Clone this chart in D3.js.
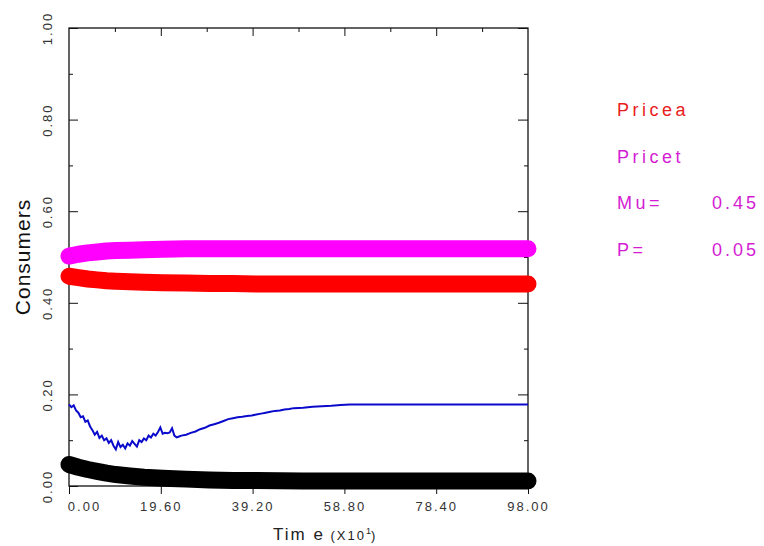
<!DOCTYPE html>
<html>
<head>
<meta charset="utf-8">
<script src="https://cdn.jsdelivr.net/npm/d3@7"></script>
<style>
  body { margin: 0; background: #fff; }
  text { font-family: "Liberation Sans", Arial, sans-serif; }
</style>
</head>
<body>
<svg id="chart" width="764" height="546"></svg>
<script>
// x is time in units of 10, y is share of consumers
const xTicks = [0, 19.6, 39.2, 58.8, 78.4, 98];
const yTicks = [0, 0.2, 0.4, 0.6, 0.8, 1.0];
const yMinor = [0.1, 0.3, 0.5, 0.7, 0.9];
const xMinor = [9.8, 29.4, 49, 68.6, 88.2];

const thickT  = [0, 2, 4, 6, 8, 10, 13, 16, 20, 25, 30, 35, 40, 50, 60, 70, 80, 98];
const pricea  = [0.458, 0.455, 0.452, 0.450, 0.448, 0.447, 0.446, 0.445, 0.444, 0.443, 0.442, 0.442, 0.441, 0.441, 0.441, 0.441, 0.441, 0.441];
const pricet  = [0.502, 0.506, 0.509, 0.511, 0.513, 0.514, 0.515, 0.516, 0.517, 0.518, 0.518, 0.518, 0.518, 0.518, 0.518, 0.518, 0.518, 0.518];
const blackV  = [0.047, 0.041, 0.036, 0.032, 0.028, 0.025, 0.022, 0.019, 0.017, 0.015, 0.013, 0.012, 0.012, 0.011, 0.011, 0.011, 0.011, 0.011];

const blueT = [0, 0.5, 1, 1.5, 2, 2.5, 3, 3.5, 4, 4.5, 5, 5.5, 6, 6.5, 7, 7.5, 8, 8.5, 9, 9.5,
  10, 10.5, 11, 11.5, 12, 12.5, 13, 13.5, 14, 14.5, 15, 15.5, 16, 16.5, 17, 17.5, 18, 18.5, 19, 19.5,
  20, 20.5, 21, 21.5, 22, 22.5, 23, 23.5, 24, 25, 26, 27, 28, 29, 30, 31, 32, 33, 34, 35, 36, 37, 38, 39,
  40, 41, 42, 43, 44, 45, 46, 47, 48, 50, 52, 54, 56, 58, 60, 98];
const blueV = [0.178, 0.172, 0.176, 0.165, 0.160, 0.150, 0.152, 0.140, 0.143, 0.130, 0.122, 0.112, 0.118, 0.105, 0.110, 0.100, 0.104, 0.094, 0.100, 0.088,
  0.080, 0.096, 0.085, 0.090, 0.082, 0.093, 0.088, 0.098, 0.092, 0.086, 0.100, 0.096, 0.104, 0.100, 0.110, 0.106, 0.114, 0.110, 0.118, 0.128,
  0.114, 0.116, 0.115, 0.117, 0.126, 0.110, 0.106, 0.108, 0.110, 0.112, 0.116, 0.119, 0.124, 0.127, 0.132, 0.135, 0.138, 0.142, 0.146, 0.148, 0.150, 0.151, 0.153, 0.154,
  0.156, 0.158, 0.160, 0.162, 0.164, 0.165, 0.167, 0.168, 0.170, 0.171, 0.173, 0.174, 0.175, 0.177, 0.178, 0.178];

const legend = [
  { label: "Pricea", value: "", color: "#e81c1c" },
  { label: "Pricet", value: "", color: "#d41cd4" },
  { label: "Mu=", value: "0.45", color: "#d41cd4" },
  { label: "P=", value: "0.05", color: "#d41cd4" }
];

const svg = d3.select("#chart");
const pLeft = 69, pRight = 528, pTop = 28, pBottom = 486;

const x = d3.scaleLinear().domain([0, 98]).range([pLeft, pRight]);
const y = d3.scaleLinear().domain([0, 1]).range([pBottom, pTop]);
const axisColor = "#111";

// frame lines
svg.append("rect")
  .attr("x", pLeft).attr("y", pTop)
  .attr("width", pRight - pLeft).attr("height", pBottom - pTop)
  .attr("fill", "none").attr("stroke", axisColor).attr("stroke-width", 1.3);

// left axis, ticks cross the line
const gl = svg.append("g").attr("transform", `translate(${pLeft},0)`)
  .call(d3.axisLeft(y).tickValues(yTicks).tickSize(10).tickFormat(d3.format(".2f")));
gl.select(".domain").remove();
gl.selectAll(".tick line").attr("x2", 9).attr("stroke", axisColor);
gl.selectAll(".tick text")
  .attr("x", 0).attr("y", -17).attr("dy", 0)
  .attr("transform", "rotate(-90)")
  .attr("text-anchor", "middle")
  .attr("fill", "#333")
  .style("font-size", "13px").style("letter-spacing", "2px");

svg.append("g").attr("transform", `translate(${pLeft},0)`)
  .call(d3.axisRight(y).tickValues(yMinor).tickSize(4).tickFormat(""))
  .call(g => g.select(".domain").remove())
  .selectAll("line").attr("stroke", axisColor);

// right axis, inward ticks
svg.append("g").attr("transform", `translate(${pRight},0)`)
  .call(d3.axisLeft(y).tickValues(yTicks).tickSize(10).tickFormat(""))
  .call(g => g.select(".domain").remove())
  .selectAll("line").attr("stroke", axisColor);
svg.append("g").attr("transform", `translate(${pRight},0)`)
  .call(d3.axisLeft(y).tickValues(yMinor).tickSize(4).tickFormat(""))
  .call(g => g.select(".domain").remove())
  .selectAll("line").attr("stroke", axisColor);

// bottom axis
const gb = svg.append("g").attr("transform", `translate(0,${pBottom})`)
  .call(d3.axisBottom(x).tickValues(xTicks).tickSize(8).tickFormat(d3.format(".2f")).tickPadding(8));
gb.select(".domain").remove();
gb.selectAll(".tick line").attr("stroke", axisColor);
gb.selectAll(".tick text")
  .attr("fill", "#333")
  .attr("dx", d => d === 0 ? 15 : 0)
  .style("font-size", "13px").style("letter-spacing", "2px");

// top axis, inward ticks
svg.append("g").attr("transform", `translate(0,${pTop})`)
  .call(d3.axisBottom(x).tickValues(xMinor).tickSize(4).tickFormat(""))
  .call(g => g.select(".domain").remove())
  .selectAll("line").attr("stroke", axisColor);
svg.append("g").attr("transform", `translate(0,${pTop})`)
  .call(d3.axisBottom(x).tickValues(xTicks.slice(1, -1)).tickSize(8).tickFormat(""))
  .call(g => g.select(".domain").remove())
  .selectAll("line").attr("stroke", axisColor);

// axis titles
const xt = svg.append("text").attr("x", 273).attr("y", 540).attr("fill", "#222");
xt.append("tspan").text("Tim e").style("font-size", "17px").style("letter-spacing", "2px");
xt.append("tspan").text(" (X10").style("font-size", "13px").style("letter-spacing", "2px");
xt.append("tspan").text("1").attr("dy", -6).style("font-size", "9px");
xt.append("tspan").text(")").attr("dy", 6).style("font-size", "13px");

svg.append("text")
  .attr("transform", "translate(30,257) rotate(-90)")
  .attr("text-anchor", "middle")
  .attr("fill", "#111")
  .style("font-size", "21px")
  .style("letter-spacing", "1px")
  .text("Consumers");

// series
const thick = d3.line().x((d, i) => x(thickT[i])).y(d => y(d));
[[blackV, "#000"], [pricea, "#ff0000"], [pricet, "#ff00ff"]].forEach(([vals, c]) => {
  svg.append("path")
    .datum(vals)
    .attr("d", thick)
    .attr("fill", "none")
    .attr("stroke", c)
    .attr("stroke-width", 17)
    .attr("stroke-linecap", "round")
    .attr("stroke-linejoin", "round");
});

svg.append("path")
  .datum(blueV)
  .attr("d", d3.line().x((d, i) => x(blueT[i])).y(d => y(d)))
  .attr("fill", "none")
  .attr("stroke", "#0a0acc")
  .attr("stroke-width", 2);

// legend
const lg = svg.append("g");
legend.forEach((d, i) => {
  const yy = 116 + i * 46.5;
  lg.append("text").attr("x", 617).attr("y", yy)
    .attr("fill", d.color).style("font-size", "18px").style("letter-spacing", "3.5px")
    .text(d.label);
  if (d.value) {
    lg.append("text").attr("x", 712).attr("y", yy)
      .attr("fill", d.color).style("font-size", "18px").style("letter-spacing", "3px")
      .text(d.value);
  }
});
</script>
</body>
</html>
